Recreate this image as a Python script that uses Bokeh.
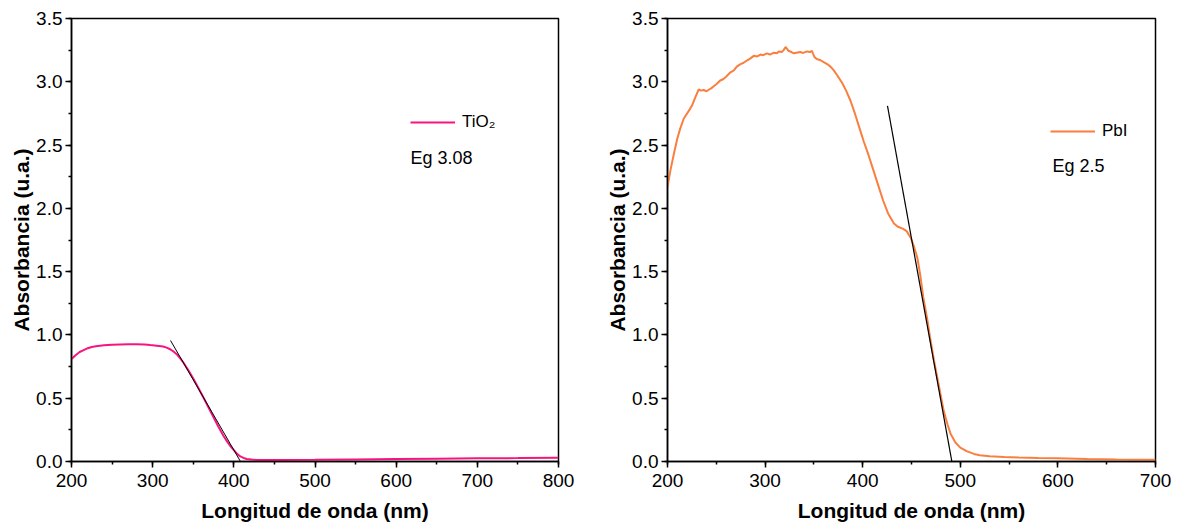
from bokeh.plotting import figure
from bokeh.layouts import row
from bokeh.models import Range1d, SingleIntervalTicker, Legend, LegendItem, Label, NumeralTickFormatter
from bokeh.embed import file_html
from bokeh.resources import INLINE

# ---------------- data ----------------
tio2_nm = [200, 205, 210, 215, 220, 225, 230, 240, 250, 260, 270, 280, 290, 297, 305, 313, 318, 322,
           326, 330, 334, 338, 344, 350, 356, 363, 369, 375, 381, 387, 392, 396, 400, 404, 408, 412,
           416, 422, 429, 440, 460, 500, 550, 600, 650, 700, 750, 800]
tio2_abs = [0.81, 0.84, 0.865, 0.88, 0.895, 0.905, 0.91, 0.918, 0.922, 0.925, 0.927, 0.927, 0.925,
            0.92, 0.915, 0.908, 0.898, 0.885, 0.868, 0.845, 0.815, 0.78, 0.72, 0.655, 0.585, 0.50,
            0.425, 0.35, 0.275, 0.205, 0.155, 0.12, 0.09, 0.06, 0.04, 0.028, 0.02, 0.015, 0.012,
            0.011, 0.011, 0.013, 0.016, 0.019, 0.022, 0.025, 0.027, 0.03]
tio2_tan_nm = [322, 410]
tio2_tan_abs = [0.956, -0.02]

pbi_nm = [200, 203, 206.5, 210, 213, 216.7, 221.8, 225, 228.7, 232, 234, 237, 240, 242, 245, 247.4,
          250, 254, 257, 260, 264.5, 268, 271, 274.8, 278, 281.7, 285, 288.4, 292, 295.3, 298, 302,
          305, 309, 312, 314, 317, 319, 321, 322.5, 324, 327, 329.4, 332, 336, 339, 343, 346, 348,
          349, 350.6, 353, 356.8, 360, 363.6, 367, 370.4, 374, 379, 383, 387.5, 392, 397.7, 401,
          406, 411, 416, 421, 426, 432, 436, 441, 445, 449, 452, 456, 459, 462, 466, 469, 473, 477,
          480, 483, 487, 490, 495, 500, 507, 514, 520, 530, 545, 560, 580, 600, 630, 660, 700]
pbi_abs = [2.17, 2.30, 2.43, 2.55, 2.63, 2.71, 2.77, 2.81, 2.88, 2.94, 2.93, 2.935, 2.925, 2.935,
           2.95, 2.965, 2.98, 3.01, 3.02, 3.04, 3.075, 3.09, 3.12, 3.14, 3.15, 3.17, 3.185, 3.205,
           3.2, 3.215, 3.21, 3.225, 3.215, 3.23, 3.225, 3.24, 3.235, 3.25, 3.275, 3.26, 3.245,
           3.235, 3.225, 3.23, 3.235, 3.228, 3.24, 3.235, 3.245, 3.225, 3.195, 3.18, 3.17, 3.155,
           3.14, 3.12, 3.09, 3.05, 2.99, 2.93, 2.85, 2.75, 2.61, 2.53, 2.42, 2.30, 2.18, 2.06,
           1.96, 1.88, 1.855, 1.84, 1.82, 1.77, 1.71, 1.61, 1.47, 1.30, 1.13, 0.98, 0.80, 0.64,
           0.52, 0.40, 0.29, 0.22, 0.15, 0.11, 0.08, 0.06, 0.05, 0.042, 0.036, 0.032, 0.028,
           0.025, 0.02, 0.016, 0.013]
pbi_tan_nm = [425.4, 493]
pbi_tan_abs = [2.81, -0.07]

x_label = "Longitud de onda (nm)"
y_label = "Absorbancia (u.a.)"

FONT = "Liberation Sans"


def make_fig(width, left, right, xmax):
    p = figure(width=width, height=525, output_backend="svg", toolbar_location=None,
               x_range=Range1d(200, xmax), y_range=Range1d(0, 3.5),
               min_border_left=left, min_border_right=right, min_border_top=18, min_border_bottom=64)
    p.xgrid.visible = False
    p.ygrid.visible = False
    p.outline_line_color = "black"
    p.outline_line_width = 1.5
    p.background_fill_color = "white"
    p.border_fill_color = "white"
    p.xaxis.ticker = SingleIntervalTicker(interval=100, num_minor_ticks=2)
    p.yaxis.ticker = SingleIntervalTicker(interval=0.5, num_minor_ticks=2)
    p.yaxis.formatter = NumeralTickFormatter(format="0.0")
    for ax in (p.xaxis[0], p.yaxis[0]):
        ax.axis_line_color = "black"
        ax.axis_line_width = 1.5
        ax.major_tick_line_color = "black"
        ax.major_tick_line_width = 1.5
        ax.minor_tick_line_color = "black"
        ax.minor_tick_line_width = 1.5
        ax.major_tick_out = 6
        ax.major_tick_in = 0
        ax.minor_tick_out = 3
        ax.minor_tick_in = 0
        ax.major_label_text_font = FONT
        ax.major_label_text_font_size = "19px"
        ax.major_label_text_color = "black"
        ax.axis_label_text_font = FONT
        ax.axis_label_text_font_size = "21px"
        ax.axis_label_text_font_style = "bold"
        ax.axis_label_text_color = "black"
    p.xaxis.axis_label = x_label
    p.yaxis.axis_label = y_label
    p.xaxis.major_label_standoff = 6
    p.xaxis.axis_label_standoff = 9
    p.yaxis.major_label_standoff = 3
    p.yaxis.axis_label_standoff = 0
    return p


def add_legend(p, renderer, text, x, y):
    leg = Legend(items=[LegendItem(label=text, renderers=[renderer])], location=(x, y),
                 border_line_alpha=0, background_fill_alpha=0, padding=0, margin=0,
                 glyph_width=45, glyph_height=20, label_standoff=7, label_height=20,
                 label_text_font=FONT, label_text_font_size="17px", label_text_color="black")
    p.add_layout(leg, "center")


# ---- left: TiO2 ----
p1 = make_fig(595, 71, 37, 800)
r1 = p1.line(tio2_nm, tio2_abs, line_color="#F8147F", line_width=2)
p1.line(tio2_tan_nm, tio2_tan_abs, line_color="black", line_width=1)
add_legend(p1, r1, "TiO\u2082", 339, 329)
p1.add_layout(Label(x=339, y=304, x_units="screen", y_units="screen", text="Eg 3.08",
                    text_font=FONT, text_font_size="18px", text_color="black",
                    text_baseline="middle"))

# ---- right: PbI ----
p2 = make_fig(584, 72, 24, 700)
r2 = p2.line(pbi_nm, pbi_abs, line_color="#FA7F3F", line_width=2)
p2.line(pbi_tan_nm, pbi_tan_abs, line_color="black", line_width=1.2)
add_legend(p2, r2, "PbI", 383, 320)
p2.add_layout(Label(x=385, y=296, x_units="screen", y_units="screen", text="Eg 2.5",
                    text_font=FONT, text_font_size="18px", text_color="black",
                    text_baseline="middle"))

layout = row(p1, p2, spacing=0)
open("out.html", "w").write(file_html(layout, INLINE))
